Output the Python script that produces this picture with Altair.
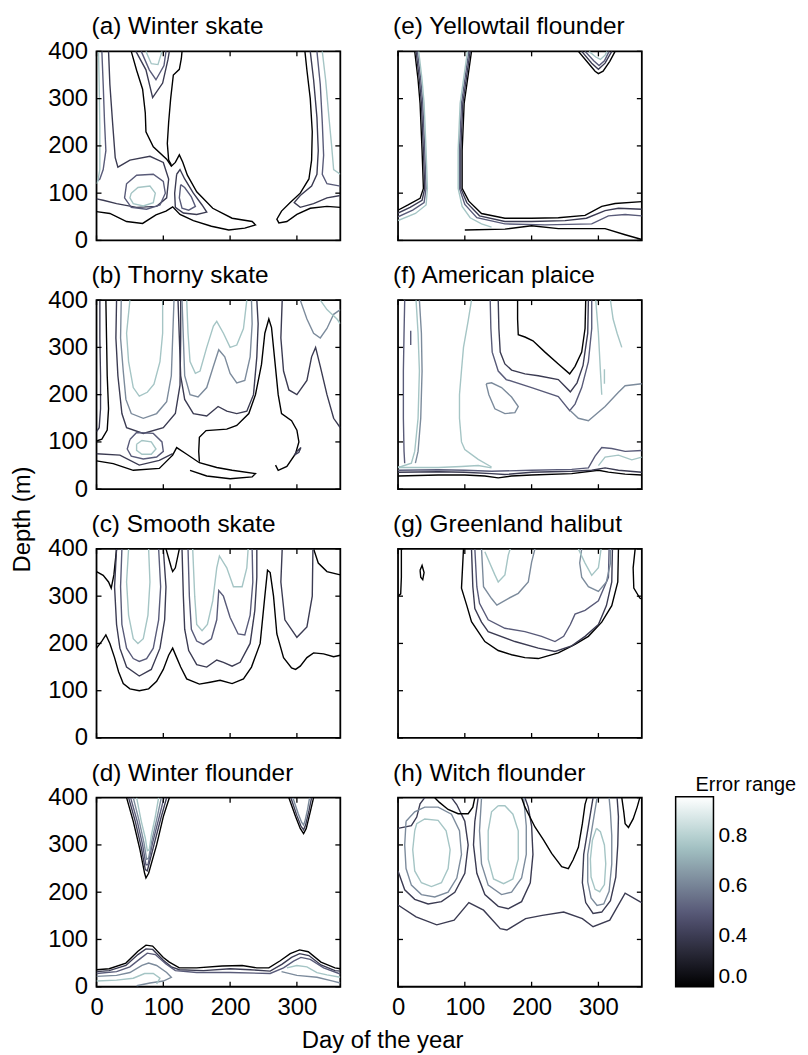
import altair as alt
import pandas as pd

FONT = "Liberation Sans"
W, H = 245, 190
X_DOMAIN = [0, 365]
Y_DOMAIN = [0, 400]
DAY_TICKS = [0, 100, 200, 300]
DEPTH_TICKS = [0, 100, 200, 300, 400]
LEVEL_STOPS = [0.2, 0.294, 0.389, 0.483, 0.578, 0.672, 0.766, 0.861, 0.955]
BONE = ["#000000", "#1c1c27", "#38384d", "#545474", "#707a8f",
        "#8ba0ab", "#a7c7c7", "#d3e3e3", "#ffffff"]
CB_VALUES = [0.2, 0.4, 0.6, 0.8]
L1, L2, L3, L4, L5 = 0.2, 0.4, 0.5, 0.62, 0.76

# each line: (error level, [(day, depth), ...])
A_LINES = [
    (L1, [(52,400),(60,360),(69,320),(73,270),(74,230),(85,198),(105,172),(112,157),(118,165),(124,181),(129,166),(136,138),(150,103),(174,68),(203,47),(233,40),(238,33),(222,26),(198,22),(172,30),(145,42),(125,55),(114,71),(104,62),(89,54),(69,36),(45,40),(20,57),(0,61)]),
    (L1, [(128,400),(127,385),(124,362),(115,350),(111,300),(108,250),(106,205),(108,170),(112,160)]),
    (L2, [(59,400),(74,361),(84,302),(99,333),(107,383),(109,400)]),
    (L3, [(67,400),(79,361),(89,340),(101,370),(104,400)]),
    (L5, [(74,400),(82,374),(92,372),(98,400)]),
    (L2, [(18,400),(20,330),(24,250),(28,175),(32,155),(50,170),(80,178),(100,165),(108,130),(105,90),(90,72),(60,70),(30,78),(10,85),(0,88)]),
    (L3, [(45,120),(60,138),(85,140),(100,125),(103,100),(95,75),(75,66),(52,70),(42,90),(45,120)]),
    (L5, [(52,100),(62,112),(80,115),(88,100),(85,80),(70,73),(55,78),(50,90),(52,100)]),
    (L3, [(8,400),(10,330),(12,250),(14,190),(10,150),(5,130),(0,125)]),
    (L5, [(3,400),(4,330),(5,240),(5,150),(2,125),(0,120)]),
    (L2, [(120,140),(125,150),(132,130),(145,100),(158,75),(165,60),(150,55),(130,58),(118,70),(117,100),(120,140)]),
    (L3, [(126,118),(132,112),(142,92),(148,72),(138,64),(128,68),(124,90),(126,118)]),
    (L1, [(312,400),(315,360),(320,300),(323,230),(322,170),(318,130),(305,100),(290,80),(277,62),(270,45),(273,37),(285,40),(300,55),(320,68),(345,72),(365,70)]),
    (L2, [(320,400),(325,340),(330,260),(332,190),(330,140),(322,115),(305,95),(296,80),(305,70),(325,78),(345,90),(365,95)]),
    (L3, [(330,400),(335,330),(338,250),(340,180),(338,140),(345,120),(365,115)]),
    (L5, [(338,400),(343,340),(348,260),(352,200),(355,150),(365,140)]),
]

B_LINES = [
    (L2, [(5,400),(5,320),(6,240),(6,170),(4,130),(0,122)]),
    (L1, [(14,400),(15,320),(16,240),(18,170),(16,125),(8,106),(0,102)]),
    (L5, [(50,400),(45,330),(48,270),(55,215),(64,197),(76,205),(86,222),(95,270),(99,330),(99,400)]),
    (L4, [(37,400),(36,320),(40,250),(44,190),(52,160),(70,150),(90,160),(105,185),(112,240),(114,320),(116,400)]),
    (L2, [(30,400),(29,320),(32,240),(38,160),(45,130),(70,118),(100,130),(118,160),(125,220),(126,320),(126,400)]),
    (L5, [(60,95),(68,103),(82,100),(89,85),(82,74),(68,74),(60,82),(60,95)]),
    (L3, [(50,105),(60,120),(85,118),(98,100),(100,80),(90,68),(70,64),(52,70),(46,85),(50,105)]),
    (L2, [(0,75),(35,72),(64,51),(94,61),(114,75)]),
    (L1, [(0,60),(25,54),(55,40),(94,44),(114,72),(120,88),(134,75),(154,56),(180,46),(203,40),(238,33),(233,26),(200,22),(165,28),(140,40)]),
    (L1, [(154,58),(153,80),(154,110),(164,124),(195,127),(210,135),(228,160),(238,200),(247,264),(252,330),(258,360),(262,342),(267,271),(272,200),(277,160),(292,145),(300,125),(303,100),(298,75),(285,48),(272,40),(268,51)]),
    (L2, [(296,72),(300,80),(306,88),(303,78),(296,72)]),
    (L5, [(135,400),(137,330),(140,270),(148,245),(155,250),(165,300),(175,345),(180,355),(190,330),(200,300),(210,305),(220,340),(225,400)]),
    (L4, [(128,400),(130,320),(132,240),(140,200),(152,195),(165,215),(175,260),(183,295),(192,280),(200,245),(210,225),(222,230),(230,280),(233,350),(232,400)]),
    (L2, [(122,400),(124,320),(126,240),(132,190),(145,160),(165,155),(182,175),(195,165),(210,160),(225,165),(235,200),(240,280),(242,350),(240,400)]),
    (L2, [(278,400),(276,320),(280,250),(288,210),(300,200),(315,230),(322,280),(328,300),(335,260),(345,200),(355,150),(365,130)]),
    (L4, [(305,400),(315,360),(325,330),(335,320),(345,340),(355,370),(365,380)]),
    (L5, [(335,400),(345,380),(360,360),(365,350)]),
]

C_LINES = [
    (L1, [(0,352),(10,344),(18,330),(22,317),(26,345),(30,400)]),
    (L1, [(0,190),(8,205),(14,218),(20,200),(27,170),(33,140),(40,115),(50,104),(64,100),(78,104),(90,120),(100,145),(108,175),(114,190),(120,170),(126,150),(135,125),(154,114),(170,118),(185,122),(203,115),(220,125),(232,150),(245,200),(252,300),(256,355),(260,350),(265,300),(270,220),(280,170),(292,148),(298,145),(305,152),(315,170),(325,180),(340,178),(355,172),(365,175)]),
    (L1, [(325,400),(332,370),(345,352),(365,345)]),
    (L1, [(104,400),(112,360),(114,352),(118,360),(124,400)]),
    (L2, [(30,400),(27,320),(30,240),(35,190),(45,150),(64,131),(82,145),(95,190),(102,250),(104,320),(100,400)]),
    (L3, [(38,400),(36,320),(38,240),(45,190),(55,168),(64,162),(75,168),(85,190),(93,250),(96,320),(93,400)]),
    (L5, [(48,400),(45,330),(48,260),(55,210),(62,200),(70,210),(77,260),(80,330),(78,400)]),
    (L2, [(128,400),(130,300),(132,230),(138,185),(150,155),(165,150),(180,165),(190,160),(203,152),(215,160),(230,200),(237,270),(240,340),(240,400)]),
    (L3, [(137,400),(139,300),(142,230),(150,205),(160,198),(172,210),(180,250),(183,312),(190,300),(200,255),(212,220),(222,218),(230,260),(234,330),(233,400)]),
    (L5, [(144,400),(147,300),(150,240),(158,227),(166,240),(174,290),(180,360),(184,385),(195,360),(205,320),(218,320),(225,360),(227,400)]),
    (L2, [(278,400),(276,330),(282,250),(300,213),(315,235),(323,300),(324,400)]),
]

D_LINES = [
    (L1, [(45,400),(55,350),(65,290),(72,240),(74,230),(78,240),(90,300),(100,360),(109,400)]),
    (L2, [(48,400),(58,350),(67,295),(73,248),(76,245),(86,300),(97,360),(105,400)]),
    (L3, [(51,400),(61,350),(69,300),(74,258),(77,258),(84,305),(94,360),(101,400)]),
    (L4, [(55,400),(64,350),(71,305),(75,270),(78,272),(83,310),(91,360),(97,400)]),
    (L5, [(60,400),(67,350),(73,315),(76,288),(79,290),(82,320),(88,360),(93,400)]),
    (L1, [(288,400),(298,360),(305,335),(310,324),(314,335),(320,370),(325,400)]),
    (L2, [(291,400),(300,362),(306,340),(310,332),(313,342),(318,372),(322,400)]),
    (L4, [(294,400),(302,366),(307,348),(310,342),(312,350),(316,375),(319,400)]),
    (L1, [(0,36),(19,38),(44,50),(62,75),(74,88),(84,86),(100,62),(109,52),(124,40),(150,40),(188,44),(218,45),(240,40),(258,40),(275,55),(290,70),(304,78),(317,74),(336,52),(357,40),(365,38)]),
    (L2, [(0,32),(19,34),(44,45),(62,68),(74,80),(84,79),(100,56),(112,42),(124,36),(160,34),(200,38),(230,36),(260,33),(278,48),(292,62),(304,70),(318,66),(336,46),(357,34),(365,33)]),
    (L3, [(0,28),(30,32),(50,42),(66,60),(76,71),(88,68),(104,48),(118,34),(150,30),(200,30),(260,28),(280,40),(295,54),(306,62),(320,58),(340,40),(365,27)]),
    (L4, [(0,22),(30,24),(50,30),(68,45),(78,50),(90,45),(105,30),(112,20),(100,12),(80,8),(60,2)]),
    (L5, [(0,12),(30,14),(55,18),(72,28),(85,28),(95,18),(90,6)]),
    (L4, [(277,32),(300,24),(330,20),(354,12),(365,8)]),
    (L5, [(285,40),(300,45),(315,42),(330,30),(345,25),(365,20)]),
]

E_LINES = [
    (L1, [(25,400),(30,340),(33,290),(36,190),(38,110),(33,89),(15,75),(0,64)]),
    (L2, [(27,400),(32,340),(35,290),(38,190),(40,110),(36,85),(18,70),(0,58)]),
    (L3, [(29,400),(34,340),(37,290),(40,190),(42,110),(39,80),(22,64),(0,50)]),
    (L5, [(31,400),(36,340),(39,290),(42,190),(44,110),(42,75),(26,57),(0,42)]),
    (L1, [(110,400),(99,290),(96,190),(96,110),(106,83),(125,57),(160,47),(200,47),(240,48),(280,53),(305,72),(325,78),(365,82)]),
    (L2, [(108,400),(97,290),(94,190),(94,110),(103,80),(122,52),(160,40),(200,40),(250,42),(282,47),(310,63),(330,68),(365,66)]),
    (L3, [(106,400),(95,290),(92,190),(92,110),(100,76),(118,48),(160,35),(220,33),(290,35),(315,52),(340,55),(365,52)]),
    (L5, [(104,400),(93,290),(90,190),(90,110),(96,72),(108,48),(125,35),(140,28)]),
    (L1, [(100,22),(160,24),(200,31),(240,25),(310,25),(340,12),(365,2)]),
    (L1, [(270,400),(285,375),(295,358),(300,353),(307,358),(317,379),(325,400)]),
    (L2, [(275,400),(290,375),(300,362),(310,375),(320,400)]),
    (L3, [(280,400),(293,380),(301,370),(309,380),(316,400)]),
    (L5, [(286,400),(296,388),(303,383),(310,392),(313,400)]),
]

F_LINES = [
    (L1, [(0,28),(60,30),(100,30),(130,28),(150,24),(170,28),(200,30),(260,33),(300,40),(315,36),(340,32),(365,30)]),
    (L2, [(0,36),(60,37),(100,36),(140,33),(160,31),(200,36),(260,38),(290,40),(310,45),(330,40),(365,36)]),
    (L3, [(0,40),(60,41),(100,40),(140,38),(200,40),(260,42),(285,45),(295,70),(305,88),(320,86),(340,80),(365,82)]),
    (L5, [(0,46),(60,46),(95,48),(120,50),(140,45)]),
    (L5, [(300,50),(310,68),(330,72),(350,62),(365,68)]),
    (L3, [(10,400),(9,330),(8,250),(8,150),(9,80),(10,55)]),
    (L5, [(27,400),(30,330),(32,250),(30,150),(25,80),(20,55),(5,48),(0,47)]),
    (L4, [(32,400),(35,330),(36,250),(34,150),(30,80),(26,55)]),
    (L3, [(19,335),(19,305)]),
    (L5, [(110,400),(105,356),(98,300),(95,251),(92,200),(92,150),(95,100),(100,84),(120,63),(140,47)]),
    (L1, [(179,400),(179,360),(180,327),(190,322),(202,314),(220,290),(240,265),(257,244),(265,260),(275,290),(280,340),(281,400)]),
    (L2, [(150,400),(151,340),(153,290),(160,265),(170,252),(190,244),(210,240),(240,232),(258,206),(268,225),(277,262),(284,330),(285,400)]),
    (L3, [(138,400),(139,340),(141,290),(150,250),(162,232),(200,215),(240,196),(257,166),(265,180),(275,215),(285,270),(290,340),(290,400)]),
    (L4, [(258,166),(270,150),(285,145),(310,175),(330,205),(340,219),(365,223)]),
    (L5, [(296,400),(300,330),(303,250),(305,200)]),
    (L5, [(318,400),(322,360),(328,330),(335,300)]),
    (L5, [(309,254),(309,223)]),
    (L4, [(132,223),(136,200),(145,170),(160,160),(175,162),(180,175),(170,195),(155,215),(140,225),(132,223)]),
]

G_LINES = [
    (L1, [(5,400),(5,340),(4,305),(0,300)]),
    (L1, [(33,355),(36,365),(39,350),(37,335),(34,340),(33,355)]),
    (L1, [(98,400),(95,317),(103,280),(110,246),(130,204),(150,185),(170,176),(190,170),(210,168),(240,180),(265,198),(285,215),(305,245),(320,280),(329,330),(330,400)]),
    (L2, [(110,400),(112,320),(115,274),(125,245),(135,225),(175,204),(210,190),(235,183),(260,195),(280,215),(300,240),(312,280),(320,330),(321,400)]),
    (L3, [(115,400),(118,320),(122,285),(135,250),(160,232),(190,225),(215,215),(235,204),(248,215),(258,240),(265,262),(280,270),(300,290),(315,340),(316,400)]),
    (L4, [(125,400),(128,320),(140,295),(148,281),(165,295),(180,306),(195,330),(200,372),(205,400)]),
    (L4, [(275,400),(272,370),(275,340),(285,320),(300,310),(312,330),(318,370),(318,400)]),
    (L5, [(130,394),(145,345),(150,330),(160,345),(165,387),(168,400)]),
    (L5, [(270,400),(280,370),(290,344),(300,360),(303,390),(304,400)]),
    (L1, [(355,400),(352,360),(353,317),(362,296),(365,294)]),
]

H_LINES = [
    (L2, [(0,173),(27,148),(58,131),(84,141),(106,178),(128,162),(153,123),(163,120),(191,144),(216,151),(248,158),(276,144),(292,127),(317,141),(340,198),(362,180),(365,178)]),
    (L2, [(40,400),(33,387),(28,359),(20,341),(0,335)]),
    (L2, [(0,245),(10,205),(25,185),(45,175),(65,180),(85,200),(100,240),(105,300),(100,350),(88,385),(80,400)]),
    (L4, [(12,350),(10,300),(12,250),(20,215),(35,195),(55,190),(75,200),(88,230),(95,280),(92,330),(80,365),(60,380),(40,380),(25,370),(12,350)]),
    (L5, [(25,330),(22,290),(25,245),(35,220),(50,212),(65,220),(75,250),(78,290),(72,330),(60,352),(40,355),(28,345),(25,330)]),
    (L2, [(120,400),(115,350),(113,300),(118,240),(130,195),(150,170),(165,165),(185,180),(198,220),(202,280),(200,340),(195,380),(190,400)]),
    (L4, [(125,400),(122,330),(125,260),(135,215),(155,195),(170,200),(185,230),(192,280),(192,340),(188,400)]),
    (L5, [(150,383),(140,370),(135,330),(135,270),(143,228),(158,218),(172,228),(180,270),(180,330),(172,365),(160,383),(150,383)]),
    (L2, [(292,400),(285,340),(278,280),(276,220),(281,178),(292,155),(305,158),(318,182),(326,232),(329,300),(330,360),(328,400)]),
    (L4, [(298,400),(291,340),(284,280),(284,222),(289,188),(298,172),(308,175),(316,202),(320,260),(320,320),(318,370),(316,400)]),
    (L5, [(297,335),(291,310),(288,270),(289,232),(295,206),(302,201),(309,216),(311,260),(309,300),(303,328),(297,335)]),
    (L1, [(55,400),(62,390),(75,375),(90,366),(105,366),(112,380),(115,400)]),
    (L1, [(185,400),(190,380),(205,338),(218,310),(230,282),(245,254),(255,250),(262,268),(270,295),(276,345),(280,386),(283,400)]),
    (L1, [(335,400),(338,370),(340,345),(345,337),(352,355),(358,380),(362,400)]),
]

PANELS = [
    ("(a) Winter skate", A_LINES, True, False),
    ("(e) Yellowtail flounder", E_LINES, False, False),
    ("(b) Thorny skate", B_LINES, True, False),
    ("(f) American plaice", F_LINES, False, False),
    ("(c) Smooth skate", C_LINES, True, False),
    ("(g) Greenland halibut", G_LINES, False, False),
    ("(d) Winter flounder", D_LINES, True, True),
    ("(h) Witch flounder", H_LINES, False, True),
]


def lines_df(lines):
    rows = []
    for i, (lvl, pts) in enumerate(lines):
        for j, (d, z) in enumerate(pts):
            rows.append({"line": i, "ord": j, "day": d, "depth": z, "level": lvl})
    return pd.DataFrame(rows)


XS = alt.Scale(domain=X_DOMAIN, nice=False, zero=False)
YS = alt.Scale(domain=Y_DOMAIN, nice=False, zero=False)
CS = alt.Scale(domain=LEVEL_STOPS, range=BONE, interpolate="rgb")
LEGEND = alt.Legend(
    orient="none", legendX=582, legendY=749, direction="vertical",
    gradientLength=191, gradientThickness=38, values=CB_VALUES,
    labelExpr="datum.value < 0.3 ? '0.0' : format(datum.value, '.1f')",
    labelFont=FONT, labelFontSize=21, labelColor="black", labelOffset=5,
    labelOverlap=False, labelBaseline="middle",
    gradientStrokeColor="black", gradientStrokeWidth=1.5, padding=0,
)


def make_panel(title, lines, left, bottom, with_ytitle, with_xtitle, with_cbtitle):
    df = lines_df(lines)
    xkw = dict(values=DAY_TICKS, labels=bottom, ticks=False, domain=False,
               grid=False, labelPadding=9, labelFlush=False)
    if with_xtitle:
        xkw.update(titleX=287, titleY=61, titleBaseline="alphabetic",
                   titleAlign="center")
    ykw = dict(values=DEPTH_TICKS, labels=left, ticks=False, domain=False,
               grid=False, labelPadding=9, labelFlush=False)
    if with_ytitle:
        ykw.update(titleX=-86, titleY=220, titleBaseline="top",
                   titleAlign="center", titleAngle=270)
    xenc = alt.X("day:Q", scale=XS, axis=alt.Axis(**xkw),
                 title="Day of the year" if with_xtitle else None)
    yenc = alt.Y("depth:Q", scale=YS, axis=alt.Axis(**ykw),
                 title="Depth (m)" if with_ytitle else None)

    contour = alt.Chart(df).mark_line(strokeWidth=1.4, clip=True).encode(
        x=xenc, y=yenc,
        color=alt.Color("level:Q", scale=CS, legend=LEGEND, title=None),
        detail="line:N", order="ord:Q",
    )
    xt = alt.Chart(pd.DataFrame({"day": DAY_TICKS}))
    yt = alt.Chart(pd.DataFrame({"depth": DEPTH_TICKS}))
    rule = dict(color="black", strokeWidth=1.3)
    t_bottom = xt.mark_rule(**rule).encode(x=xenc, y=alt.value(H), y2=alt.value(H - 5))
    t_top = xt.mark_rule(**rule).encode(x=xenc, y=alt.value(0), y2=alt.value(5))
    t_left = yt.mark_rule(**rule).encode(y=yenc, x=alt.value(0), x2=alt.value(5))
    t_right = yt.mark_rule(**rule).encode(y=yenc, x=alt.value(W), x2=alt.value(W - 5))
    ttl = alt.Chart(pd.DataFrame({"t": [title]})).mark_text(
        font=FONT, fontSize=24.5, align="left", baseline="alphabetic", color="black"
    ).encode(text="t:N", x=alt.value(-5), y=alt.value(-17))
    layers = [contour, t_bottom, t_top, t_left, t_right, ttl]
    if with_cbtitle:
        cbt = alt.Chart(pd.DataFrame({"t": ["Error range"]})).mark_text(
            font=FONT, fontSize=20, align="left", baseline="alphabetic", color="black"
        ).encode(text="t:N", x=alt.value(299), y=alt.value(-7))
        layers.append(cbt)
    return alt.layer(*layers).properties(width=W, height=H)


charts = []
for k, (title, lines, left, bottom) in enumerate(PANELS):
    charts.append(make_panel(title, lines, left, bottom,
                             with_ytitle=(k == 2), with_xtitle=(k == 6),
                             with_cbtitle=(k == 7)))

chart = alt.concat(*charts, columns=2, spacing={"row": 60, "column": 58},
                   bounds="flush").properties(
    padding={"left": 10, "top": 11, "right": 10, "bottom": 2},
).configure_view(stroke="black", strokeWidth=1.8).configure_axis(
    labelFont=FONT, labelFontSize=24, labelColor="black",
    titleFont=FONT, titleFontSize=24, titleFontWeight="normal", titleColor="black",
)

chart.save("out.html", embed_options={"renderer": "svg", "actions": False})
